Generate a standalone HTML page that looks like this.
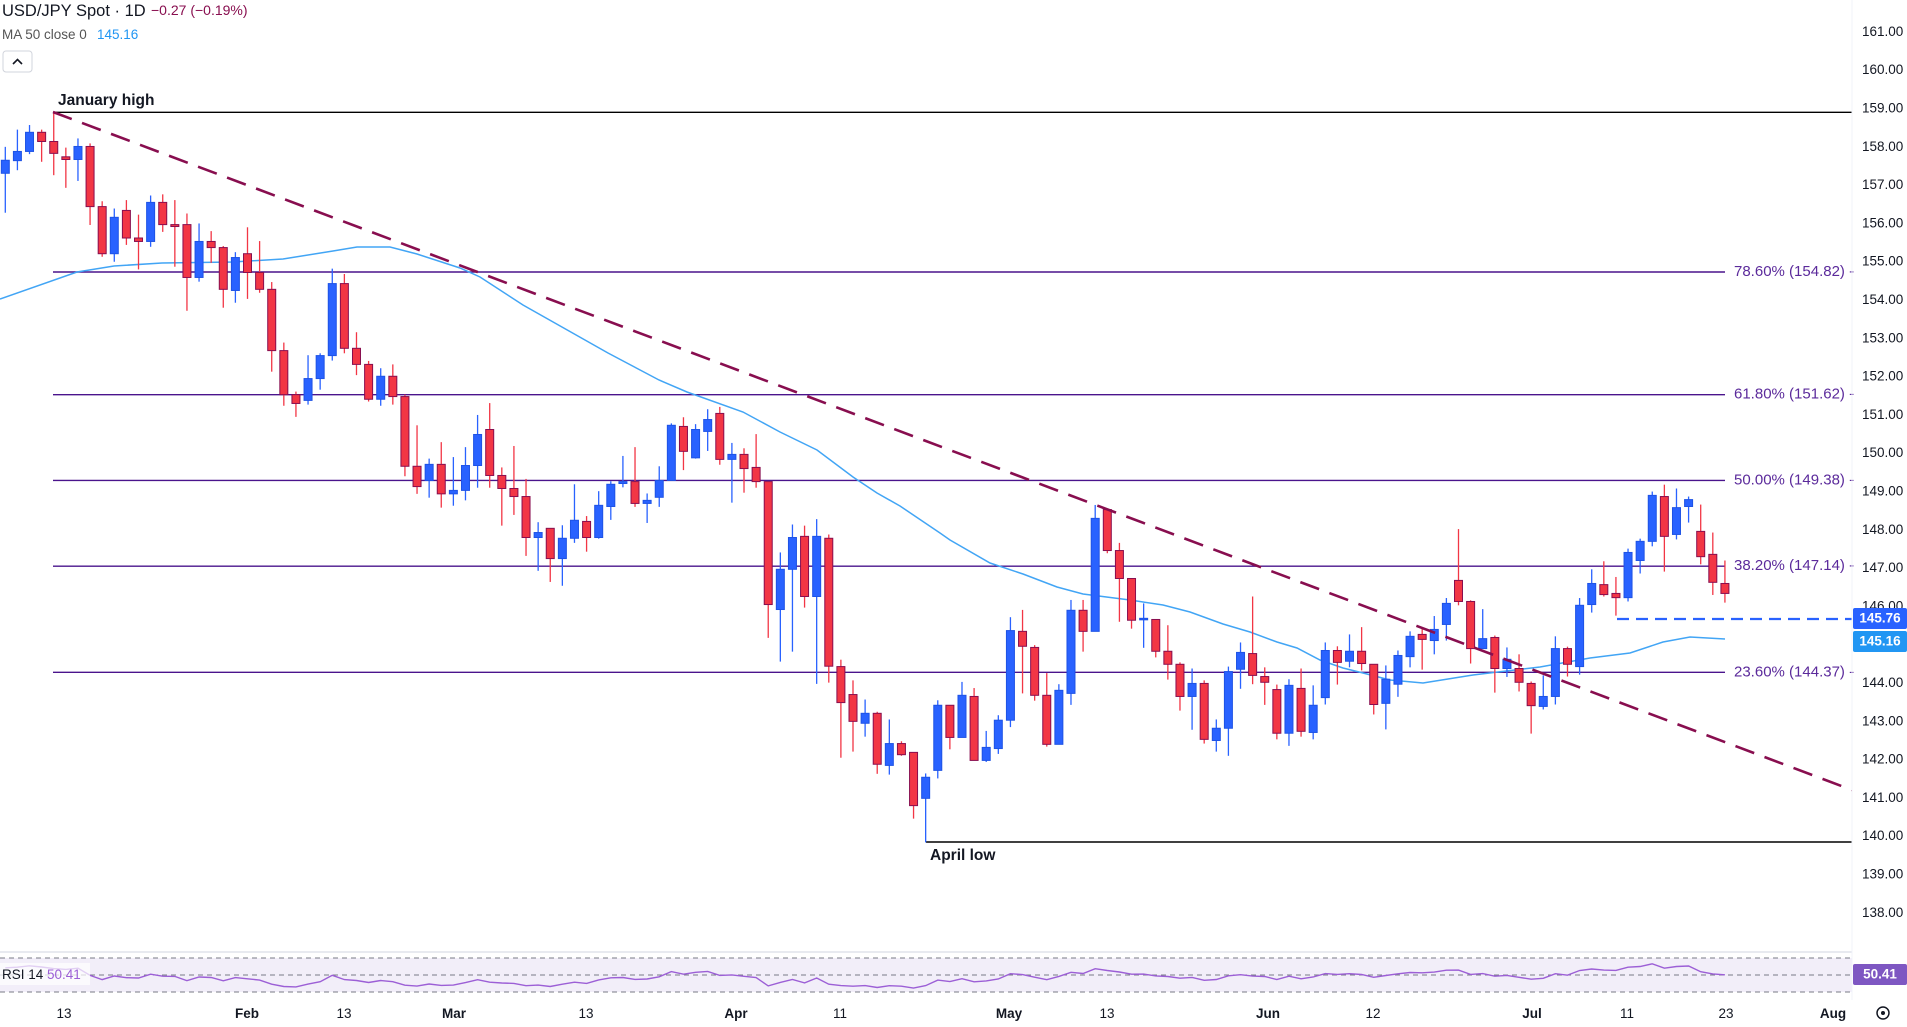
<!DOCTYPE html>
<html><head><meta charset="utf-8">
<style>
html,body{margin:0;padding:0;background:#fff;}
svg{display:block;font-family:"Liberation Sans","DejaVu Sans",sans-serif;}
</style></head>
<body>
<svg id="c" width="1907" height="1027" viewBox="0 0 1907 1027" xmlns="http://www.w3.org/2000/svg">
<rect width="1907" height="1027" fill="#fff"/>
<g id="fib" stroke="#4a148c" stroke-width="1.4">
<line x1="53" y1="272" x2="1725" y2="272"/>
<line x1="53" y1="394.7" x2="1725" y2="394.7"/>
<line x1="53" y1="480.4" x2="1725" y2="480.4"/>
<line x1="53" y1="566.2" x2="1725" y2="566.2"/>
<line x1="53" y1="672.3" x2="1725" y2="672.3"/>
</g>
<g font-size="15" fill="#5b2a9b">
<text x="1734" y="272" dominant-baseline="middle">78.60% (154.82) -</text>
<text x="1734" y="394.7" dominant-baseline="middle">61.80% (151.62) -</text>
<text x="1734" y="480.4" dominant-baseline="middle">50.00% (149.38) -</text>
<text x="1734" y="566.2" dominant-baseline="middle">38.20% (147.14) -</text>
<text x="1734" y="672.3" dominant-baseline="middle">23.60% (144.37) -</text>
</g>
<line x1="53" y1="112.3" x2="1852" y2="112.3" stroke="#000" stroke-width="1.4"/>
<line x1="926" y1="842" x2="1852" y2="842" stroke="#000" stroke-width="1.4"/>
<text x="58" y="105" font-size="15.5" font-weight="bold" fill="#131722">January high</text>
<text x="930" y="860" font-size="15.5" font-weight="bold" fill="#131722">April low</text>
<g id="ma"></g>
<g id="candles"></g>
<line x1="53" y1="112" x2="1852" y2="790" stroke="#880e4f" stroke-width="2.6" stroke-dasharray="20,11"/>
<line x1="1617" y1="619" x2="1852" y2="619" stroke="#2962ff" stroke-width="2.2" stroke-dasharray="12,7"/>
<g id="axis" font-size="13.5" fill="#131722"></g>
<rect x="1853" y="608" width="54" height="21" rx="2" fill="#2962ff"/>
<text x="1880" y="619" font-size="13.5" font-weight="bold" fill="#fff" text-anchor="middle" dominant-baseline="middle">145.76</text>
<rect x="1853" y="631" width="54" height="21" rx="2" fill="#2196f3"/>
<text x="1880" y="642" font-size="13.5" font-weight="bold" fill="#fff" text-anchor="middle" dominant-baseline="middle">145.16</text>
<text x="2" y="16" font-size="16.5" fill="#131722">USD/JPY Spot · 1D</text>
<text x="151" y="15" font-size="14" fill="#880e4f">−0.27 (−0.19%)</text>
<text x="2" y="39" font-size="13.5" fill="#555">MA 50 close 0</text>
<text x="97" y="39" font-size="13.5" fill="#2196f3">145.16</text>
<rect x="3" y="51" width="29" height="21" rx="3" fill="#fff" stroke="#d1d4dc"/>
<path d="M13 64 L17.5 59.5 L22 64" fill="none" stroke="#131722" stroke-width="1.6"/>
<line x1="0" y1="952" x2="1852" y2="952" stroke="#e0e3eb" stroke-width="1.5"/>
<rect x="0" y="958" width="1852" height="34" fill="#7e57c2" fill-opacity="0.1"/>
<g stroke="#787b86" stroke-width="1" stroke-dasharray="5,4">
<line x1="0" y1="958" x2="1852" y2="958"/>
<line x1="0" y1="975" x2="1852" y2="975"/>
<line x1="0" y1="992" x2="1852" y2="992"/>
</g>
<polyline id="rsi" fill="none" stroke="#9c5fd6" stroke-width="1.4" points=""/>
<rect x="0" y="963" width="90" height="22" fill="#fff" fill-opacity="0.7"/>
<text x="2" y="979" font-size="13.5" fill="#131722">RSI 14</text>
<text x="47" y="979" font-size="13.5" fill="#9c5fd6">50.41</text>
<rect x="1853" y="964" width="54" height="21" rx="2" fill="#7e57c2"/>
<text x="1880" y="975" font-size="13.5" font-weight="bold" fill="#fff" text-anchor="middle" dominant-baseline="middle">50.41</text>
<line x1="1852" y1="0" x2="1852" y2="1000" stroke="#f0f3fa" stroke-width="1"/>
<g font-size="13.5" fill="#131722" text-anchor="middle">
<text x="64" y="1018">13</text>
<text x="247" y="1018" font-weight="bold">Feb</text>
<text x="344" y="1018">13</text>
<text x="454" y="1018" font-weight="bold">Mar</text>
<text x="586" y="1018">13</text>
<text x="736" y="1018" font-weight="bold">Apr</text>
<text x="840" y="1018">11</text>
<text x="1009" y="1018" font-weight="bold">May</text>
<text x="1107" y="1018">13</text>
<text x="1268" y="1018" font-weight="bold">Jun</text>
<text x="1373" y="1018">12</text>
<text x="1532" y="1018" font-weight="bold">Jul</text>
<text x="1627" y="1018">11</text>
<text x="1726" y="1018">23</text>
<text x="1833" y="1018" font-weight="bold">Aug</text>
</g>
<circle cx="1883" cy="1013" r="6" fill="none" stroke="#131722" stroke-width="1.5"/>
<circle cx="1883" cy="1013" r="2" fill="#131722"/>
</svg>
<script>
var D=[
[157.40,158.09,156.37,157.74],[157.73,158.54,157.48,157.97],[157.97,158.66,157.9,158.47],[158.47,158.54,157.7,158.23],[158.23,159.0,157.35,157.92],
[157.83,158.07,157.02,157.76],[157.76,158.31,157.2,158.1],[158.1,158.18,156.05,156.53],[156.53,156.67,155.22,155.3],[155.3,156.48,155.09,156.25],
[156.43,156.7,155.53,155.71],[155.71,156.32,154.89,155.62],[155.62,156.82,155.48,156.64],[156.64,156.85,155.87,156.06],[156.06,156.7,154.96,156.01],
[156.06,156.35,153.81,154.68],[154.68,156.09,154.57,155.62],[155.62,155.89,155.06,155.46],[155.46,155.5,153.89,154.37],[154.34,155.34,154.02,155.2],
[155.3,155.99,154.12,154.81],[154.81,155.63,154.28,154.37],[154.37,154.56,152.22,152.77],[152.77,152.98,151.33,151.62],[151.62,151.7,151.04,151.39],
[151.47,152.65,151.36,152.04],[152.04,152.7,151.75,152.64],[152.64,154.91,152.51,154.52],[154.52,154.77,152.7,152.83],[152.83,153.25,152.13,152.41],
[152.41,152.5,151.44,151.5],[151.5,152.31,151.33,152.1],[152.1,152.41,151.36,151.57],[151.57,151.62,149.49,149.75],[149.75,150.82,149.03,149.22],
[149.38,149.95,148.93,149.8],[149.8,150.38,148.67,149.03],[149.03,149.99,148.72,149.12],[149.12,150.25,148.86,149.77],[149.77,151.09,149.19,150.58],
[150.71,151.4,149.19,149.51],[149.51,149.72,148.2,149.17],[149.17,150.28,148.48,148.96],[148.96,149.42,147.41,147.89],[147.89,148.29,147.02,148.02],
[148.13,148.13,146.73,147.34],[147.34,148.21,146.63,147.87],[147.87,149.28,147.75,148.34],[148.31,148.45,147.52,147.89],[147.89,149.1,147.86,148.73],
[148.7,149.36,148.35,149.28],[149.3,150.02,149.2,149.35],[149.35,150.25,148.69,148.78],[148.78,149.04,148.27,148.86],[148.94,149.75,148.69,149.38],
[149.38,150.87,149.38,150.82],[150.79,151.03,149.65,150.14],[149.97,150.85,149.95,150.71],[150.66,151.24,150.15,150.97],[151.13,151.3,149.79,149.93],
[149.93,150.36,148.8,150.06],[150.06,150.22,149.06,149.69],[149.72,150.59,149.19,149.35],[149.35,149.35,145.27,146.14],[146.01,147.5,144.65,147.06],
[147.06,148.23,144.91,147.89],[147.92,148.2,146.06,146.35],[146.35,148.37,144.07,147.92],[147.87,147.97,144.1,144.53],[144.52,144.7,142.14,143.58],
[143.79,144.16,142.3,143.09],[143.04,143.66,142.69,143.3],[143.3,143.34,141.72,141.97],[141.94,143.14,141.7,142.51],[142.51,142.57,142.19,142.22],
[142.28,142.28,140.55,140.89],[141.08,141.73,139.93,141.63],[141.81,143.64,141.6,143.51],[143.51,143.51,142.36,142.67],[142.67,144.12,142.67,143.77],
[143.74,143.96,142.07,142.07],[142.07,142.84,142.03,142.41],[142.38,143.25,142.24,143.12],[143.12,145.81,142.94,145.46],[145.44,146.0,143.82,145.05],
[145.02,145.08,143.63,143.77],[143.77,144.35,142.43,142.49],[142.49,144.06,142.49,143.9],[143.82,146.26,143.52,145.99],[145.99,146.26,144.91,145.44],
[145.44,148.74,145.44,148.39],[148.62,148.62,147.48,147.55],[147.55,147.75,145.69,146.82],[146.82,146.82,145.51,145.73],[145.75,146.17,145.01,145.78],
[145.75,145.75,144.76,144.92],[144.92,145.6,144.18,144.58],[144.58,144.63,143.37,143.74],[143.74,144.47,142.87,144.08],[144.08,144.16,142.51,142.62],
[142.59,143.14,142.3,142.91],[142.91,144.52,142.19,144.39],[144.45,145.15,143.94,144.89],[144.86,146.35,144.06,144.29],[144.26,144.5,143.52,144.11],
[143.92,144.05,142.62,142.78],[142.78,144.19,142.45,144.03],[143.95,144.47,142.69,142.83],[142.8,144.03,142.62,143.51],[143.71,145.15,143.53,144.94],
[144.94,145.05,144.05,144.63],[144.66,145.36,144.5,144.92],[144.92,145.55,144.42,144.6],[144.58,144.58,143.27,143.53],[143.56,144.55,142.88,144.19],
[144.06,144.94,143.73,144.81],[144.78,145.44,144.5,145.31],[145.36,145.52,144.44,145.23],[145.2,145.84,144.84,145.49],[145.62,146.31,145.2,146.17],
[146.77,148.11,146.12,146.22],[146.22,146.25,144.6,144.99],[144.99,146.02,144.99,145.25],[145.28,145.33,143.84,144.47],[144.47,145.02,144.25,144.71],
[144.47,144.84,143.87,144.11],[144.08,144.13,142.77,143.5],[143.48,144.29,143.4,143.74],[143.74,145.31,143.53,144.99],[144.99,145.04,144.26,144.58],
[144.52,146.31,144.31,146.12],[146.14,147.06,145.93,146.69],[146.66,147.27,146.35,146.4],[146.43,146.86,145.85,146.32],[146.32,147.6,146.22,147.5],
[147.29,147.86,146.95,147.79],[147.79,149.09,147.66,148.99],[148.96,149.27,147.0,147.92],[147.97,149.17,147.84,148.67],[148.7,148.96,148.28,148.88],
[148.05,148.75,147.19,147.39],[147.45,148.02,146.39,146.72],[146.69,147.29,146.19,146.43]];
function Y(p){return 112+(159-p)*38.3;}
function X(i){return 5.3+12.11*i;}
var g=document.getElementById('candles'),h='';
for(var i=0;i<D.length;i++){var d=D[i],x=X(i),up=d[3]>=d[0];
var col=up?'#2962ff':'#f23645',bc=up?'#1e53e5':'#880e4f';
var t=Y(Math.max(d[0],d[3])),b=Y(Math.min(d[0],d[3]));if(b-t<1.5){b=t+1.5;}
h+='<line x1="'+x+'" y1="'+Y(d[1])+'" x2="'+x+'" y2="'+Y(d[2])+'" stroke="'+col+'" stroke-width="1.3"/>';
h+='<rect x="'+(x-4)+'" y="'+t+'" width="8" height="'+(b-t)+'" fill="'+col+'" stroke="'+bc+'" stroke-width="1"/>';}
g.innerHTML=h;
var ma=[[0,299],[77,272],[114,266],[162,263],[233,262],[283,259],[333,251],[357,247],[390,247],[417,254],[460,268],[480,277],[523,305],[608,353],[659,380],[687,392],[743,412],[780,432],[817,450],[853,477],[877,493],[900,506],[940,533],[950,540],[990,563],[1023,574],[1057,587],[1083,594],[1130,600],[1163,605],[1190,612],[1223,624],[1250,632],[1277,642],[1297,648],[1320,660],[1343,668],[1363,673],[1390,680],[1423,683],[1473,675],[1540,667],[1590,658],[1630,653],[1663,642],[1690,637],[1725,639]];
document.getElementById('ma').innerHTML='<polyline fill="none" stroke="#42a5f5" stroke-width="1.5" points="'+ma.map(function(p){return p.join(',')}).join(' ')+'"/>';
var ax='';for(var p=138;p<=161;p++){ax+='<text x="1862" y="'+(Y(p)+0.5)+'">'+p+'.00</text>';}
document.getElementById('axis').innerHTML=ax;
var ag=0,al=0,pts=[],prev=157.0,r=60;
for(var i=0;i<D.length;i++){var c=D[i][3],ch=c-prev;prev=c;var gn=Math.max(ch,0),ls=Math.max(-ch,0);
if(i==0){ag=0.35;al=0.25;}ag=(ag*13+gn)/14;al=(al*13+ls)/14;r=100-100/(1+ag/(al||1e-6));
pts.push(X(i).toFixed(1)+','+(975-(r-50)*0.6).toFixed(1));}
document.getElementById('rsi').setAttribute('points',pts.join(' '));
</script>
</body></html>
